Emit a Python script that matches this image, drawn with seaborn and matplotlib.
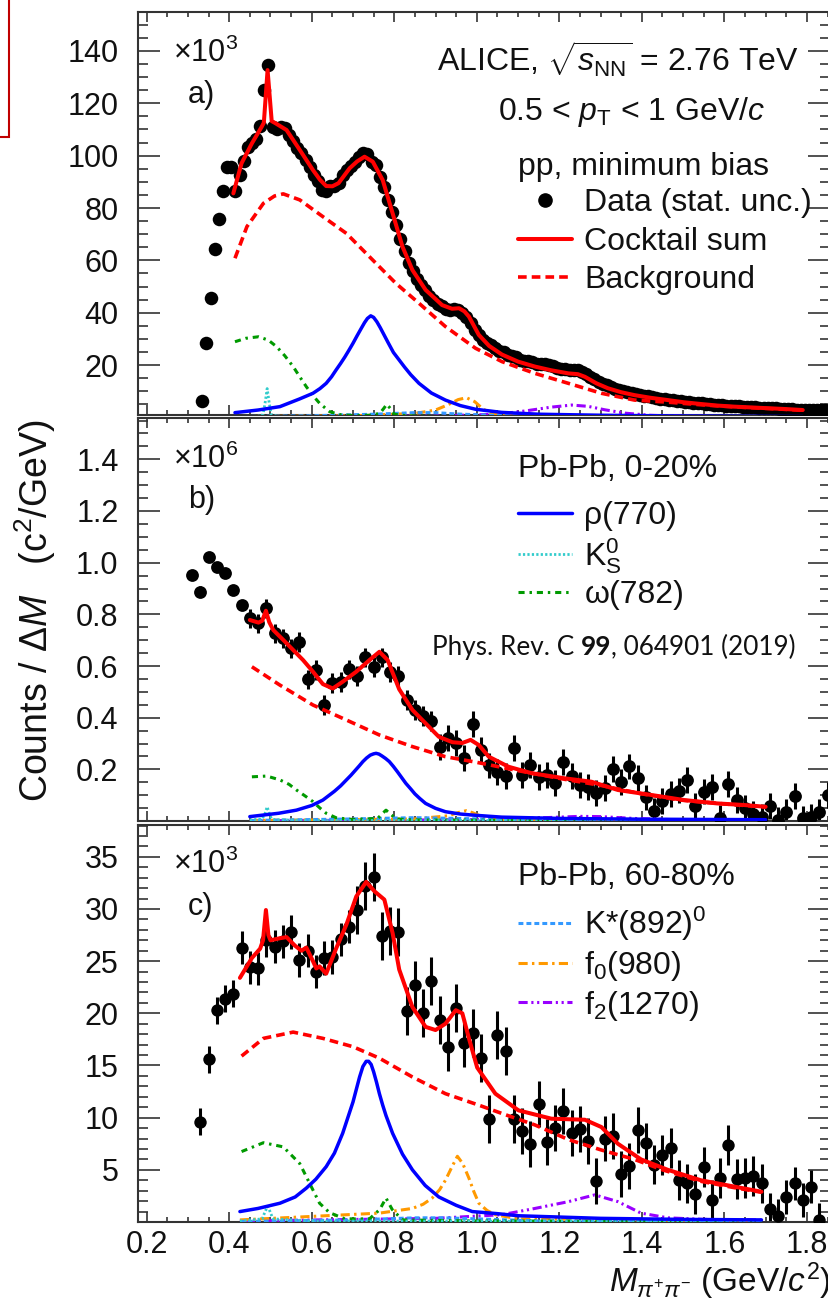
import matplotlib
matplotlib.use("Agg")
import matplotlib.pyplot as plt
from matplotlib.lines import Line2D
from matplotlib.patches import Rectangle
from matplotlib.ticker import MultipleLocator, FuncFormatter, FormatStrFormatter
import seaborn as sns

sns.set_style("ticks")
plt.rcParams["font.family"] = ["Liberation Sans", "DejaVu Sans"]
plt.rcParams["mathtext.fontset"] = "custom"
plt.rcParams["mathtext.rm"] = "Liberation Sans"
plt.rcParams["mathtext.it"] = "Liberation Sans:italic"
plt.rcParams["mathtext.bf"] = "Liberation Sans:bold"

# ---------------- panel a: pp, minimum bias (counts x 10^3) ----------------
mass_a = [0.335, 0.345, 0.355, 0.365, 0.375, 0.385, 0.395, 0.405, 0.415, 0.425,
          0.435, 0.445, 0.455, 0.465, 0.475, 0.485, 0.495, 0.505, 0.515, 0.525,
          0.535, 0.545, 0.555, 0.565, 0.575, 0.585, 0.595, 0.605, 0.615, 0.625,
          0.635, 0.645, 0.655, 0.665, 0.675, 0.685, 0.695, 0.705, 0.715, 0.725,
          0.735, 0.745, 0.755, 0.765, 0.775, 0.785, 0.795, 0.805, 0.815, 0.825,
          0.835, 0.845, 0.855, 0.865, 0.875, 0.885, 0.895, 0.905, 0.915, 0.925,
          0.935, 0.945, 0.955, 0.965, 0.975, 0.985, 0.995, 1.005, 1.015, 1.025,
          1.035, 1.045, 1.055, 1.065, 1.075, 1.085, 1.095, 1.105, 1.115, 1.125,
          1.135, 1.145, 1.155, 1.165, 1.175, 1.185, 1.195, 1.205, 1.215, 1.225,
          1.235, 1.245, 1.255, 1.265, 1.275, 1.285, 1.295, 1.305, 1.315, 1.325,
          1.335, 1.345, 1.355, 1.365, 1.375, 1.385, 1.395, 1.405, 1.415, 1.425,
          1.435, 1.445, 1.455, 1.465, 1.475, 1.485, 1.495, 1.505, 1.515, 1.525,
          1.535, 1.545, 1.555, 1.565, 1.575, 1.585, 1.595, 1.605, 1.615, 1.625,
          1.635, 1.645, 1.655, 1.665, 1.675, 1.685, 1.695, 1.705, 1.715, 1.725,
          1.735, 1.745, 1.755, 1.765, 1.775, 1.785, 1.795, 1.805, 1.815, 1.825,
          1.835, 1.845]
counts_a = [6.2, 28.5, 45.6, 64.2, 75.8, 86.6, 95.7, 95.7, 86.4, 92.5,
            98.0, 103.5, 105.0, 106.5, 111.5, 125.0, 134.5, 111.0, 110.0, 111.0,
            110.5, 108.0, 105.5, 103.0, 101.0, 98.5, 95.5, 92.5, 90.5, 87.0,
            86.5, 88.5, 88.5, 89.5, 92.5, 94.5, 96.0, 97.5, 99.5, 101.0,
            100.5, 97.5, 96.5, 92.0, 88.0, 83.0, 78.5, 73.5, 68.0, 63.5,
            59.0, 56.0, 53.0, 50.5, 48.5, 46.5, 45.0, 43.5, 42.5, 41.5,
            41.0, 41.5, 41.0, 40.0, 38.5, 36.0, 33.5, 31.5, 29.5, 28.5,
            27.5, 26.5, 25.5, 25.0, 24.0, 23.5, 23.0, 22.0, 21.5, 21.5,
            21.0, 20.5, 20.5, 20.5, 20.0, 19.5, 19.0, 18.5, 18.5, 18.0,
            18.0, 18.0, 17.5, 16.5, 15.5, 14.5, 13.5, 12.8, 12.2, 11.6,
            11.0, 10.5, 10.0, 9.6, 9.2, 8.9, 8.6, 8.3, 8.0, 7.7,
            7.4, 7.2, 7.0, 6.8, 6.6, 6.4, 6.2, 6.0, 5.8, 5.6,
            5.4, 5.3, 5.1, 5.0, 4.8, 4.7, 4.6, 4.5, 4.4, 4.3,
            4.2, 4.1, 4.0, 3.9, 3.8, 3.7, 3.6, 3.5, 3.4, 3.4,
            3.3, 3.2, 3.2, 3.1, 3.0, 3.0, 2.9, 2.9, 2.8, 2.8,
            2.7, 2.7]

sum_a_m = [0.410, 0.430, 0.455, 0.479, 0.484, 0.493, 0.503, 0.511, 0.539, 0.571,
           0.603, 0.620, 0.635, 0.650, 0.665, 0.692, 0.710, 0.728, 0.748, 0.772,
           0.796, 0.820, 0.844, 0.876, 0.916, 0.940, 0.957, 0.970, 0.981, 1.005,
           1.030, 1.061, 1.100, 1.141, 1.180, 1.222, 1.245, 1.262, 1.290, 1.318,
           1.350, 1.382, 1.420, 1.463, 1.500, 1.543, 1.583, 1.623, 1.664, 1.704,
           1.745, 1.790]
sum_a_v = [85.6, 97.1, 104.7, 111.1, 112.6, 132.7, 113.2, 112.5, 109.8, 102.2,
           94.5, 90.8, 88.4, 88.3, 89.5, 95.2, 97.8, 99.6, 97.7, 90.7,
           78.0, 65.2, 56.3, 48.7, 42.9, 41.5, 41.7, 40.5, 38.5, 31.5,
           27.3, 24.0, 21.3, 19.4, 18.0, 16.8, 16.5, 15.5, 13.0, 11.1,
           9.6, 8.5, 7.5, 6.6, 5.8, 5.1, 4.5, 4.1, 3.8, 3.5,
           3.2, 2.8]
bkg_a_m = [0.414, 0.443, 0.483, 0.510, 0.531, 0.571, 0.627, 0.684, 0.748, 0.804,
           0.860, 0.924, 0.997, 1.061, 1.141, 1.222, 1.302, 1.382, 1.463, 1.543,
           1.623, 1.704, 1.790]
bkg_a_v = [60.8, 72.9, 81.8, 84.6, 85.4, 83.1, 76.7, 70.3, 60.1, 51.2,
           43.6, 34.7, 26.4, 21.3, 16.8, 13.0, 9.2, 6.6, 5.8, 4.8,
           4.0, 3.4, 2.7]
rho_a_m = [0.414, 0.470, 0.523, 0.570, 0.603, 0.620, 0.635, 0.648, 0.659, 0.670,
           0.680, 0.690, 0.700, 0.710, 0.720, 0.728, 0.735, 0.743, 0.750, 0.758,
           0.766, 0.775, 0.785, 0.798, 0.812, 0.825, 0.840, 0.860, 0.890, 0.924,
           0.960, 0.997, 1.060, 1.150, 1.300, 1.500, 1.790]
rho_a_v = [1.8, 2.8, 4.1, 7.0, 9.2, 11.0, 13.0, 15.5, 18.1, 20.6,
           23.0, 25.6, 28.3, 31.2, 34.0, 36.2, 37.8, 38.8, 38.2, 36.5,
           34.3, 31.6, 28.6, 24.8, 21.9, 19.2, 16.3, 13.0, 9.3, 6.6,
           4.5, 3.1, 1.9, 1.2, 0.8, 0.5, 0.3]
k0_a_m = [0.414, 0.470, 0.482, 0.487, 0.492, 0.497, 0.502, 0.515, 0.600, 1.790]
k0_a_v = [0.3, 0.4, 1.0, 5.5, 11.0, 5.5, 1.0, 0.4, 0.2, 0.1]
om_a_m = [0.414, 0.440, 0.471, 0.495, 0.515, 0.535, 0.555, 0.571, 0.587, 0.603,
          0.619, 0.643, 0.670, 0.700, 0.740, 0.765, 0.775, 0.782, 0.790, 0.800,
          0.830, 0.900, 1.000, 1.790]
om_a_v = [28.9, 30.2, 30.8, 29.5, 27.0, 23.5, 19.4, 15.5, 11.7, 8.3,
          5.4, 2.2, 1.0, 0.7, 0.8, 1.5, 3.5, 5.0, 3.5, 1.2,
          0.6, 0.4, 0.3, 0.1]
ks_a_m = [0.414, 0.600, 0.750, 0.850, 0.900, 0.950, 1.050, 1.200, 1.790]
ks_a_v = [0.3, 0.6, 1.2, 1.8, 1.8, 1.3, 0.7, 0.4, 0.1]
f0_a_m = [0.414, 0.700, 0.850, 0.900, 0.930, 0.955, 0.975, 0.995, 1.015, 1.035,
          1.070, 1.200, 1.790]
f0_a_v = [0.3, 0.6, 1.5, 2.8, 4.8, 6.8, 7.5, 6.0, 3.2, 1.5, 0.7, 0.3, 0.1]
f2_a_m = [0.414, 0.900, 1.050, 1.120, 1.180, 1.230, 1.270, 1.310, 1.360, 1.420,
          1.500, 1.790]
f2_a_v = [0.2, 0.5, 1.2, 2.5, 3.9, 4.7, 4.2, 2.9, 1.6, 0.8, 0.4, 0.2]

# ---------------- panel b: Pb-Pb 0-20% (counts x 10^6) ----------------
mass_b = [0.31, 0.33, 0.35, 0.37, 0.39, 0.41, 0.43, 0.45, 0.47, 0.49,
          0.51, 0.53, 0.55, 0.57, 0.59, 0.61, 0.63, 0.65, 0.67, 0.69,
          0.71, 0.73, 0.75, 0.77, 0.79, 0.81, 0.83, 0.85, 0.87, 0.89,
          0.91, 0.93, 0.95, 0.97, 0.99, 1.01, 1.03, 1.05, 1.07, 1.09,
          1.11, 1.13, 1.15, 1.17, 1.19, 1.21, 1.23, 1.25, 1.27, 1.29,
          1.31, 1.33, 1.35, 1.37, 1.39, 1.41, 1.43, 1.45, 1.47, 1.49,
          1.51, 1.53, 1.55, 1.57, 1.59, 1.61, 1.63, 1.65, 1.67, 1.69,
          1.71, 1.73, 1.75, 1.77, 1.79, 1.81, 1.83, 1.85]
counts_b = [0.952, 0.888, 1.023, 0.982, 0.959, 0.894, 0.836, 0.784, 0.765, 0.823,
            0.726, 0.707, 0.668, 0.694, 0.548, 0.584, 0.449, 0.535, 0.539, 0.587,
            0.561, 0.633, 0.595, 0.633, 0.578, 0.561, 0.468, 0.430, 0.406, 0.388,
            0.285, 0.320, 0.301, 0.243, 0.375, 0.275, 0.215, 0.191, 0.173, 0.281,
            0.178, 0.217, 0.171, 0.178, 0.146, 0.228, 0.173, 0.140, 0.133, 0.110,
            0.127, 0.202, 0.150, 0.211, 0.165, 0.091, 0.040, 0.078, 0.104, 0.118,
            0.159, 0.058, 0.114, 0.133, 0.012, 0.142, 0.081, 0.052, 0.026, 0.017,
            0.057, 0.005, 0.036, 0.096, 0.010, 0.015, 0.036, 0.101]
err_b = [0.02, 0.02, 0.02, 0.02, 0.02, 0.02, 0.02, 0.038, 0.038, 0.038,
         0.038, 0.038, 0.038, 0.038, 0.038, 0.038, 0.038, 0.038, 0.038, 0.038,
         0.038, 0.038, 0.038, 0.038, 0.038, 0.038, 0.038, 0.038, 0.038, 0.038,
         0.05, 0.05, 0.05, 0.05, 0.05, 0.05, 0.05, 0.05, 0.05, 0.05,
         0.05, 0.05, 0.05, 0.05, 0.05, 0.05, 0.05, 0.05, 0.05, 0.05,
         0.05, 0.05, 0.05, 0.05, 0.05, 0.05, 0.05, 0.05, 0.05, 0.05,
         0.05, 0.05, 0.05, 0.05, 0.05, 0.05, 0.05, 0.05, 0.05, 0.05,
         0.05, 0.05, 0.05, 0.05, 0.05, 0.05, 0.05, 0.05]

sum_b_m = [0.450, 0.471, 0.480, 0.489, 0.497, 0.507, 0.531, 0.555, 0.579, 0.603,
           0.627, 0.651, 0.675, 0.708, 0.740, 0.764, 0.784, 0.812, 0.844, 0.876,
           0.908, 0.941, 0.965, 0.985, 1.005, 1.029, 1.077, 1.133, 1.214, 1.278,
           1.342, 1.422, 1.503, 1.583, 1.647, 1.700]
sum_b_v = [0.778, 0.768, 0.775, 0.814, 0.770, 0.739, 0.701, 0.662, 0.623, 0.578,
           0.530, 0.513, 0.539, 0.578, 0.623, 0.655, 0.623, 0.510, 0.430, 0.378,
           0.326, 0.305, 0.302, 0.314, 0.294, 0.249, 0.210, 0.185, 0.165, 0.152,
           0.120, 0.101, 0.081, 0.068, 0.062, 0.055]
bkg_b_m = [0.455, 0.523, 0.603, 0.684, 0.764, 0.844, 0.924, 0.997, 1.100, 1.200,
           1.300, 1.400, 1.500, 1.600, 1.700]
bkg_b_v = [0.597, 0.526, 0.449, 0.391, 0.333, 0.288, 0.249, 0.228, 0.195, 0.165,
           0.138, 0.105, 0.080, 0.066, 0.054]
rho_b_m = [0.450, 0.520, 0.563, 0.600, 0.627, 0.655, 0.670, 0.684, 0.695, 0.705,
           0.715, 0.724, 0.733, 0.742, 0.750, 0.756, 0.763, 0.770, 0.779, 0.788,
           0.798, 0.808, 0.818, 0.828, 0.840, 0.850, 0.862, 0.876, 0.900, 0.924,
           0.960, 0.989, 1.060, 1.200, 1.400, 1.700]
rho_b_v = [0.017, 0.030, 0.042, 0.060, 0.081, 0.115, 0.136, 0.159, 0.177, 0.195,
           0.213, 0.230, 0.244, 0.255, 0.260, 0.262, 0.259, 0.252, 0.242, 0.230,
           0.211, 0.190, 0.168, 0.146, 0.124, 0.105, 0.087, 0.068, 0.049, 0.036,
           0.027, 0.023, 0.015, 0.010, 0.007, 0.005]
k0_b_m = [0.450, 0.480, 0.487, 0.492, 0.497, 0.502, 0.510, 0.600, 1.700]
k0_b_v = [0.004, 0.008, 0.030, 0.055, 0.030, 0.010, 0.005, 0.002, 0.001]
om_b_m = [0.455, 0.491, 0.523, 0.545, 0.563, 0.583, 0.603, 0.620, 0.635, 0.660,
          0.700, 0.760, 0.772, 0.780, 0.790, 0.805, 0.850, 1.000, 1.700]
om_b_v = [0.171, 0.174, 0.159, 0.142, 0.120, 0.098, 0.075, 0.050, 0.030, 0.012,
          0.006, 0.010, 0.030, 0.042, 0.028, 0.008, 0.004, 0.003, 0.002]
ks_b_m = [0.450, 0.700, 0.850, 0.950, 1.100, 1.700]
ks_b_v = [0.002, 0.008, 0.013, 0.010, 0.005, 0.001]
f0_b_m = [0.450, 0.850, 0.930, 0.960, 0.975, 0.990, 1.020, 1.060, 1.700]
f0_b_v = [0.002, 0.008, 0.020, 0.035, 0.040, 0.032, 0.012, 0.005, 0.001]
f2_b_m = [0.450, 1.000, 1.150, 1.250, 1.300, 1.380, 1.500, 1.700]
f2_b_v = [0.001, 0.005, 0.012, 0.018, 0.017, 0.010, 0.004, 0.002]

# ---------------- panel c: Pb-Pb 60-80% (counts x 10^3) ----------------
mass_c = [0.33, 0.35, 0.37, 0.39, 0.41, 0.43, 0.45, 0.47, 0.49, 0.51,
          0.53, 0.55, 0.57, 0.59, 0.61, 0.63, 0.65, 0.67, 0.69, 0.71,
          0.73, 0.75, 0.77, 0.79, 0.81, 0.83, 0.85, 0.87, 0.89, 0.91,
          0.93, 0.95, 0.97, 0.99, 1.01, 1.03, 1.05, 1.07, 1.09, 1.11,
          1.13, 1.15, 1.17, 1.19, 1.21, 1.23, 1.25, 1.27, 1.29, 1.31,
          1.33, 1.35, 1.37, 1.39, 1.41, 1.43, 1.45, 1.47, 1.49, 1.51,
          1.53, 1.55, 1.57, 1.59, 1.61, 1.63, 1.65, 1.67, 1.69, 1.71,
          1.73, 1.75, 1.77, 1.79, 1.81, 1.83]
counts_c = [9.6, 15.6, 20.3, 21.4, 21.9, 26.3, 24.4, 24.3, 27.0, 26.4,
            26.9, 27.8, 25.1, 26.0, 24.0, 25.3, 25.4, 27.1, 28.3, 29.9,
            32.2, 33.1, 27.4, 27.9, 27.8, 20.2, 22.7, 20.0, 23.1, 19.4,
            16.8, 20.5, 17.2, 18.1, 15.7, 9.9, 17.9, 16.4, 9.9, 8.7,
            7.5, 11.3, 7.7, 9.0, 10.6, 8.5, 8.9, 7.8, 3.9, 8.0,
            8.2, 4.6, 5.4, 8.8, 7.6, 5.5, 6.4, 7.1, 4.0, 3.7,
            2.7, 5.3, 2.1, 4.2, 7.4, 4.1, 4.2, 4.4, 3.7, 1.2,
            0.6, 2.4, 3.7, 2.1, 3.4, 0.2]
err_c = [1.3, 1.3, 1.3, 1.3, 1.3, 1.6, 1.6, 1.6, 1.6, 1.6,
         1.6, 1.6, 1.6, 1.6, 1.6, 1.6, 1.6, 1.6, 1.6, 2.3,
         2.3, 2.3, 2.3, 2.3, 2.3, 2.3, 2.3, 2.3, 2.3, 2.3,
         2.3, 2.3, 2.3, 2.3, 2.3, 2.3, 2.3, 2.3, 2.3, 2.2,
         2.2, 2.2, 2.2, 2.2, 2.2, 2.2, 2.2, 2.2, 2.2, 2.2,
         2.2, 2.2, 2.2, 2.2, 1.9, 1.9, 1.9, 1.9, 1.9, 1.9,
         1.9, 1.9, 1.9, 1.9, 1.9, 1.9, 1.9, 1.9, 1.9, 1.6,
         1.6, 1.6, 1.6, 1.6, 1.6, 1.6]

sum_c_m = [0.426, 0.455, 0.475, 0.482, 0.489, 0.495, 0.500, 0.523, 0.539, 0.559,
           0.575, 0.587, 0.603, 0.611, 0.619, 0.635, 0.659, 0.684, 0.708, 0.732,
           0.752, 0.776, 0.796, 0.812, 0.844, 0.876, 0.900, 0.924, 0.949, 0.965,
           0.981, 1.001, 1.045, 1.101, 1.181, 1.262, 1.302, 1.342, 1.398, 1.463,
           1.543, 1.623, 1.690]
sum_c_v = [23.4, 25.3, 26.2, 27.0, 29.9, 27.5, 27.0, 27.2, 27.3, 26.5,
           26.0, 26.3, 25.0, 24.3, 24.5, 23.8, 26.2, 28.5, 31.2, 32.6,
           31.7, 30.9, 27.7, 24.2, 20.6, 18.7, 18.4, 19.0, 20.3, 20.0,
           17.6, 14.8, 12.3, 10.7, 9.9, 9.8, 9.1, 7.5, 6.0, 5.0,
           4.0, 3.4, 2.9]
bkg_c_m = [0.430, 0.483, 0.555, 0.627, 0.700, 0.764, 0.844, 0.924, 1.005, 1.061,
           1.141, 1.222, 1.302, 1.382, 1.450, 1.543, 1.623, 1.690]
bkg_c_v = [15.9, 17.6, 18.2, 17.6, 16.8, 15.7, 13.9, 12.3, 11.2, 10.4,
           9.3, 7.9, 6.9, 6.0, 5.0, 3.9, 3.3, 2.85]
rho_c_m = [0.426, 0.470, 0.523, 0.560, 0.587, 0.610, 0.635, 0.655, 0.675, 0.690,
           0.700, 0.708, 0.716, 0.724, 0.732, 0.738, 0.744, 0.750, 0.757, 0.764,
           0.772, 0.780, 0.796, 0.820, 0.844, 0.875, 0.908, 0.950, 0.989, 1.050,
           1.100, 1.300, 1.500, 1.690]
rho_c_v = [1.0, 1.3, 1.8, 2.4, 3.25, 4.1, 5.3, 6.6, 8.5, 10.3,
           11.5, 12.7, 13.9, 14.9, 15.4, 15.4, 15.1, 14.4, 13.4, 12.3,
           11.2, 10.2, 8.5, 6.5, 5.0, 3.5, 2.4, 1.6, 1.0, 0.8,
           0.6, 0.35, 0.25, 0.2]
k0_c_m = [0.426, 0.480, 0.487, 0.493, 0.499, 0.506, 0.600, 1.690]
k0_c_v = [0.1, 0.3, 1.0, 1.5, 1.0, 0.3, 0.1, 0.05]
om_c_m = [0.430, 0.483, 0.531, 0.571, 0.595, 0.619, 0.643, 0.680, 0.740, 0.765,
          0.780, 0.795, 0.820, 1.000, 1.690]
om_c_v = [6.75, 7.6, 7.2, 5.6, 3.7, 1.8, 0.9, 0.3, 0.3, 1.2,
          2.3, 1.2, 0.2, 0.1, 0.05]
ks_c_m = [0.426, 0.700, 0.850, 0.920, 1.000, 1.150, 1.690]
ks_c_v = [0.05, 0.2, 0.4, 0.4, 0.3, 0.1, 0.05]
f0_c_m = [0.426, 0.764, 0.844, 0.870, 0.892, 0.910, 0.924, 0.940, 0.953, 0.966,
          0.981, 0.993, 1.005, 1.025, 1.045, 1.100, 1.690]
f0_c_v = [0.2, 0.85, 1.3, 1.7, 2.3, 3.1, 4.0, 5.3, 6.3, 5.6,
          4.2, 2.9, 1.8, 1.1, 0.7, 0.3, 0.1]
f2_c_m = [0.426, 0.900, 1.061, 1.141, 1.222, 1.286, 1.342, 1.398, 1.463, 1.550, 1.690]
f2_c_v = [0.1, 0.35, 0.7, 1.3, 1.95, 2.6, 1.95, 0.85, 0.4, 0.25, 0.2]

# ---------------- styles ----------------
RED, BLUE = "#ff0000", "#0000ff"
CYAN, GREEN = "#33cccc", "#009a00"
KSTAR, ORANGE, PURPLE = "#3399ff", "#ff9900", "#9900ff"
LS_BKG = (0, (2.4, 1.4))
LS_K0 = (0, (0.8, 0.8))
LS_OM = (0, (2.0, 1.6, 0.8, 1.6))
LS_KS = (0, (1.6, 1.0))
LS_F0 = (0, (3.0, 1.4, 0.8, 1.4))
LS_F2 = (0, (3.0, 1.2, 0.7, 1.2, 0.7, 1.2))

FIG_W, FIG_H = 829, 1302
fig = plt.figure(figsize=(FIG_W / 100, FIG_H / 100), dpi=100)
fig.patch.set_facecolor("white")

left_px, right_px = 138, 830
panel_px = [(12, 415), (418, 821), (825, 1222)]
axes = []
for top, bot in panel_px:
    ax = fig.add_axes([left_px / FIG_W, 1 - bot / FIG_H,
                       (right_px - left_px) / FIG_W, (bot - top) / FIG_H])
    axes.append(ax)
ax_a, ax_b, ax_c = axes

ylims = [(0.9, 154.9), (0.0, 1.56), (0.0, 38.05)]
ymaj = [20, 0.2, 5]
ymin = [5, 0.05, 1]
yfmt = ["%d", "%.1f", "%d"]


def no_zero(fmt):
    return FuncFormatter(lambda v, pos: "" if abs(v) < 1e-9 else fmt % v)


for ax, yl, mj, mn, fm in zip(axes, ylims, ymaj, ymin, yfmt):
    ax.set_xlim(0.179, 1.856)
    ax.set_ylim(*yl)
    ax.xaxis.set_major_locator(MultipleLocator(0.2))
    ax.xaxis.set_minor_locator(MultipleLocator(0.05))
    ax.yaxis.set_major_locator(MultipleLocator(mj))
    ax.yaxis.set_minor_locator(MultipleLocator(mn))
    ax.yaxis.set_major_formatter(no_zero(fm))
    ax.xaxis.set_major_formatter(FormatStrFormatter("%.1f"))
    for sp in ax.spines.values():
        sp.set_visible(True)
        sp.set_linewidth(1.5)
        sp.set_color("#333333")
    ax.tick_params(axis="y", which="major", direction="in", length=16, width=1.2,
                   left=True, right=True, labelsize=22, pad=14, color="#333333",
                   labelcolor="#111111")
    ax.tick_params(axis="y", which="minor", direction="in", length=7.5, width=1.2,
                   left=True, right=True, color="#333333")
    ax.tick_params(axis="x", which="major", direction="in", length=7.5, width=1.2,
                   top=True, bottom=True, labelsize=22, pad=5.5, color="#333333",
                   labelcolor="#111111")
    ax.tick_params(axis="x", which="minor", direction="in", length=3.8, width=1.2,
                   top=True, bottom=True, color="#333333")
    ax.set_xlabel("")
    ax.set_ylabel("")

ax_a.tick_params(axis="x", labelbottom=False)
ax_b.tick_params(axis="x", labelbottom=False)


def draw_data(ax, m, v, err=None, size=85):
    if err is not None:
        ax.errorbar(m, v, yerr=err, fmt="none", ecolor="black", elinewidth=2.2,
                    capsize=0, zorder=2)
    sns.scatterplot(x=m, y=v, ax=ax, color="black", s=size, linewidth=0,
                    zorder=3, legend=False)


def draw_curve(ax, m, v, color, ls="-", lw=2.2, z=4):
    sns.lineplot(x=m, y=v, ax=ax, color=color, linestyle=ls, lw=lw,
                 estimator=None, sort=False, legend=False, zorder=z)


def draw_cocktail(ax, parts):
    (sm, sv), (bm, bv), (rm, rv), (k0m, k0v), (om, ov), (ksm, ksv), (f0m, f0v), (f2m, f2v) = parts
    draw_curve(ax, f2m, f2v, PURPLE, LS_F2, 2.2, 4)
    draw_curve(ax, f0m, f0v, ORANGE, LS_F0, 2.2, 4)
    draw_curve(ax, ksm, ksv, KSTAR, LS_KS, 2.2, 4)
    draw_curve(ax, om, ov, GREEN, LS_OM, 2.2, 4)
    draw_curve(ax, k0m, k0v, CYAN, LS_K0, 2.0, 4)
    draw_curve(ax, rm, rv, BLUE, "-", 2.5, 5)
    draw_curve(ax, bm, bv, RED, LS_BKG, 2.6, 5)
    draw_curve(ax, sm, sv, RED, "-", 2.9, 6)


draw_data(ax_a, mass_a, counts_a, None, 95)
draw_cocktail(ax_a, [(sum_a_m, sum_a_v), (bkg_a_m, bkg_a_v), (rho_a_m, rho_a_v),
                     (k0_a_m, k0_a_v), (om_a_m, om_a_v), (ks_a_m, ks_a_v),
                     (f0_a_m, f0_a_v), (f2_a_m, f2_a_v)])

draw_data(ax_b, mass_b, counts_b, err_b, 85)
draw_cocktail(ax_b, [(sum_b_m, sum_b_v), (bkg_b_m, bkg_b_v), (rho_b_m, rho_b_v),
                     (k0_b_m, k0_b_v), (om_b_m, om_b_v), (ks_b_m, ks_b_v),
                     (f0_b_m, f0_b_v), (f2_b_m, f2_b_v)])

draw_data(ax_c, mass_c, counts_c, err_c, 80)
draw_cocktail(ax_c, [(sum_c_m, sum_c_v), (bkg_c_m, bkg_c_v), (rho_c_m, rho_c_v),
                     (k0_c_m, k0_c_v), (om_c_m, om_c_v), (ks_c_m, ks_c_v),
                     (f0_c_m, f0_c_v), (f2_c_m, f2_c_v)])

TXT = "#111111"
FS = 23

# multipliers and panel tags
for ax, mult, tag, yb_m, yb_t in [(ax_a, r"×10$^{3}$", "a)", 0.876, 0.774),
                                  (ax_b, r"×10$^{6}$", "b)", 0.876, 0.777),
                                  (ax_c, r"×10$^{3}$", "c)", 0.878, 0.773)]:
    ax.text(0.0505, yb_m, mult, transform=ax.transAxes, fontsize=22,
            va="baseline", ha="left", color=TXT)
    ax.text(0.0722, yb_t, tag, transform=ax.transAxes, fontsize=22,
            va="baseline", ha="left", color=TXT)

# panel a header and legend
ax_a.text(0.4316, 0.851, r"ALICE, $\sqrt{s_{\rm NN}}$ = 2.76 TeV",
          transform=ax_a.transAxes, fontsize=FS, va="baseline", ha="left", color=TXT)
ax_a.text(0.5197, 0.732, r"0.5 < $p_{\rm T}$ < 1 GeV/$c$",
          transform=ax_a.transAxes, fontsize=FS, va="baseline", ha="left", color=TXT)
ax_a.text(0.5485, 0.5955, "pp, minimum bias",
          transform=ax_a.transAxes, fontsize=FS, va="baseline", ha="left", color=TXT)

leg_kw = dict(loc="upper left", frameon=False, fontsize=FS, handlelength=1.69,
              handletextpad=0.4, borderpad=0, borderaxespad=0, labelcolor=TXT)
h_a = [Line2D([], [], marker="o", ls="none", color="black", ms=9.5),
       Line2D([], [], color=RED, lw=2.9),
       Line2D([], [], color=RED, lw=2.6, ls=LS_BKG)]
ax_a.legend(h_a, ["Data (stat. unc.)", "Cocktail sum", "Background"],
            bbox_to_anchor=(0.5485, 0.563), labelspacing=0.27, **leg_kw)

# panel b header and legend
ax_b.text(0.5485, 0.8536, "Pb-Pb, 0-20%", transform=ax_b.transAxes,
          fontsize=FS, va="baseline", ha="left", color=TXT)
h_b = [Line2D([], [], color=BLUE, lw=2.5),
       Line2D([], [], color=CYAN, lw=2.0, ls=LS_K0),
       Line2D([], [], color=GREEN, lw=2.2, ls=LS_OM)]
ax_b.legend(h_b, ["ρ(770)", r"K$^{0}_{\rm S}$", "ω(782)"],
            bbox_to_anchor=(0.5485, 0.794), labelspacing=0.15, **leg_kw)

# journal reference, with the volume in bold
ref_y = 0.412
REF_FS = 18.8
t1 = ax_b.text(0.4244, ref_y, "Phys. Rev. C ", transform=ax_b.transAxes,
               fontsize=REF_FS, family="Lato", va="baseline", ha="left", color=TXT)
fig.canvas.draw()
rend = fig.canvas.get_renderer()
inv = ax_b.transAxes.inverted()
x_end = inv.transform((t1.get_window_extent(rend).x1, 0))[0]
t2 = ax_b.text(x_end, ref_y, "99", transform=ax_b.transAxes, fontsize=REF_FS,
               family="Lato", fontweight="bold", va="baseline", ha="left", color=TXT)
x_end = inv.transform((t2.get_window_extent(rend).x1, 0))[0]
ax_b.text(x_end, ref_y, ", 064901 (2019)", transform=ax_b.transAxes, fontsize=REF_FS,
          family="Lato", va="baseline", ha="left", color=TXT)

# panel c header and legend
ax_c.text(0.5485, 0.849, "Pb-Pb, 60-80%", transform=ax_c.transAxes,
          fontsize=FS, va="baseline", ha="left", color=TXT)
h_c = [Line2D([], [], color=KSTAR, lw=2.2, ls=LS_KS),
       Line2D([], [], color=ORANGE, lw=2.2, ls=LS_F0),
       Line2D([], [], color=PURPLE, lw=2.2, ls=LS_F2)]
ax_c.legend(h_c, [r"K*(892)$^{0}$", r"f$_{0}$(980)", r"f$_{2}$(1270)"],
            bbox_to_anchor=(0.5485, 0.799), labelspacing=0.18, **leg_kw)

# axis titles
fig.text(0.043, 0.531, r"Counts / Δ$M$   (c$^{2}$/GeV)", rotation=90,
         fontsize=27, ha="center", va="center", color=TXT)
fig.text(831 / FIG_W, 1 - 1292 / FIG_H, r"$M_{\pi^{+}\pi^{-}}$ (GeV/$c^{2}$)",
         fontsize=24, ha="right", va="baseline", color=TXT)

# highlight frame at the top-left corner
fig.add_artist(Rectangle((-0.05, 1 - 137 / FIG_H), 0.05 + 9 / FIG_W, 0.2,
                         transform=fig.transFigure, fill=False,
                         edgecolor="#c00000", linewidth=1.5))

fig.savefig("out.png", dpi=100)
